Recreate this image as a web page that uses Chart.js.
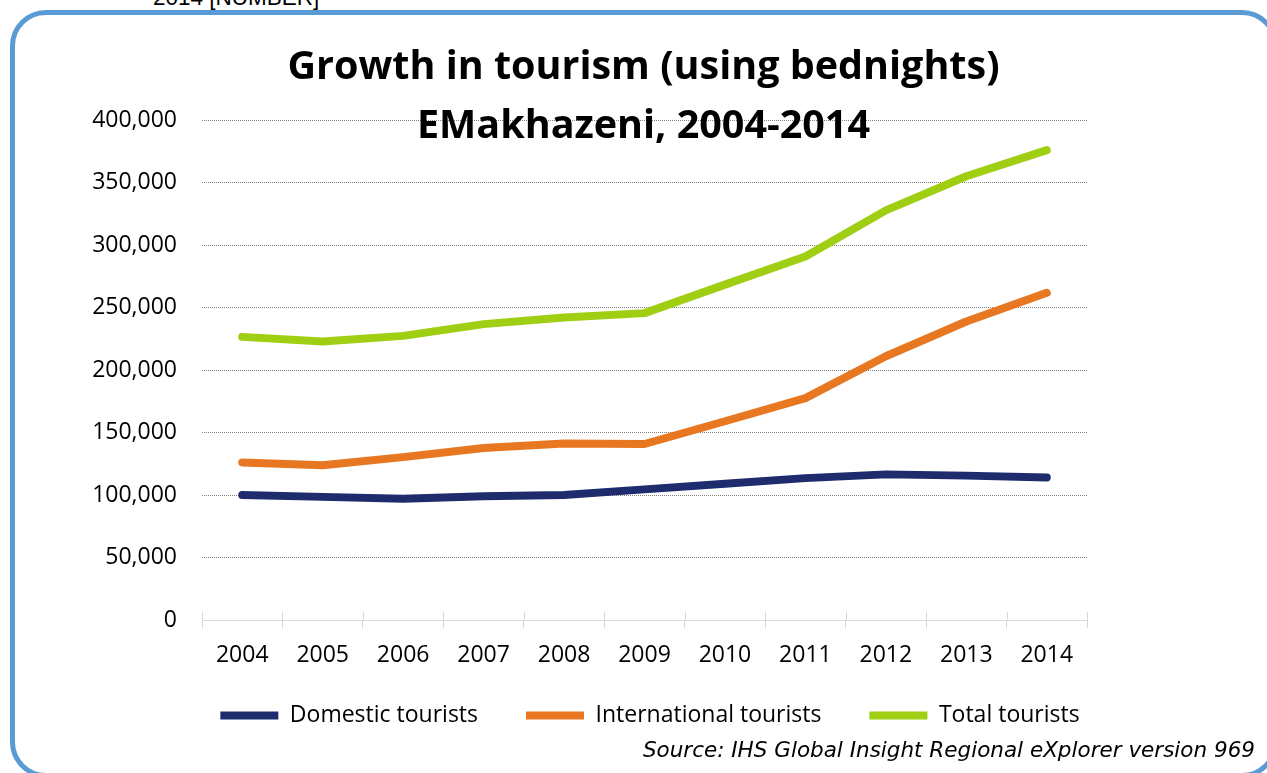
<!DOCTYPE html>
<html>
<head>
<meta charset="utf-8">
<title>Growth in tourism (using bednights) EMakhazeni, 2004-2014</title>
<script src="https://cdn.jsdelivr.net/npm/chart.js@4/dist/chart.umd.min.js"></script>
<style>
  html, body { margin: 0; padding: 0; background: #fff; overflow: hidden; }
  #wrap { position: relative; width: 1267px; height: 773px; overflow: hidden; }
  #frame {
    position: absolute; left: 10px; top: 10px; width: 1268px; height: 768px;
    border: 5px solid #5b9bd5; border-radius: 36px; box-sizing: border-box;
  }
  #caption {
    position: absolute; left: 153px; top: -15px;
    font: 22.5px "Liberation Sans", Arial, sans-serif; color: #000;
  }
  #title {
    position: absolute; left: 0; top: 35px; width: 1287px; text-align: center;
    font: bold 39.5px "Open Sans", sans-serif; line-height: 59px; color: #000;
    pointer-events: none; z-index: 2;
  }
  #source {
    position: absolute; right: 12px; top: 737px;
    font: italic 21.5px "DejaVu Sans", sans-serif; color: #000;
  }
  #chart { position: absolute; left: 0; top: 0; }
</style>
</head>
<body>
<div id="wrap">
  <div id="caption">2014 [NUMBER]</div>
  <div id="frame"></div>
  <canvas id="chart" width="1267" height="773"></canvas>
  <div id="title">Growth in tourism (using bednights)<br>EMakhazeni, 2004-2014</div>
  <div id="source">Source: IHS Global Insight Regional eXplorer version 969</div>
</div>
<script>
const years = ["2004", "2005", "2006", "2007", "2008", "2009", "2010", "2011", "2012", "2013", "2014"];
const domestic = [100000, 98500, 97000, 99000, 100000, 104500, 109000, 113500, 116500, 115500, 114000];
const international = [126000, 123800, 130300, 137600, 141200, 140800, 159000, 177500, 211000, 238800, 261800];
const total = [226500, 222800, 227300, 236700, 242000, 245500, 268300, 290800, 327700, 355000, 375900];
const seriesNames = ["Domestic tourists", "International tourists", "Total tourists"];
const seriesColors = ["#1e2c6d", "#e87722", "#9fce13"];

function makeSet(i, values) {
    return {
        label: seriesNames[i],
        data: values,
        borderColor: seriesColors[i],
        backgroundColor: seriesColors[i],
        borderWidth: 8,
        borderCapStyle: "round",
        borderJoinStyle: "round",
        pointRadius: 0,
        pointHoverRadius: 0,
        pointStyle: "line",
        tension: 0,
        fill: false
    };
}

// short tick marks crossing the category axis at each boundary
const axisTicks = {
    id: "axisTicks",
    afterDatasetsDraw(chart) {
        const x = chart.scales.x;
        const ctx = chart.ctx;
        const y0 = chart.chartArea.bottom;
        const step = (x.right - x.left) / years.length;
        ctx.save();
        ctx.strokeStyle = "#d9d9d9";
        ctx.lineWidth = 1;
        ctx.beginPath();
        for (let i = 0; i <= years.length; i++) {
            const px = Math.round(x.left + step * i) + 0.5;
            ctx.moveTo(px, y0 - 8);
            ctx.lineTo(px, y0);
        }
        ctx.stroke();
        ctx.restore();
    }
};

// the legend row sits a little right of the plot's centre and tucked up under the years
const legendShift = {
    id: "legendShift",
    afterLayout(chart) {
        const lg = chart.legend;
        const dx = 650 - (lg.left + lg.right) / 2;
        lg.left += dx;
        lg.right += dx;
        lg.top -= 12;
        lg.bottom -= 12;
    }
};

const config = {
    type: "line",
    data: {
        labels: years,
        datasets: [makeSet(0, domestic), makeSet(1, international), makeSet(2, total)]
    },
    plugins: [axisTicks, legendShift],
    options: {
        responsive: false,
        animation: false,
        layout: { padding: { left: 0, right: 180, top: 120, bottom: 24 } },
        plugins: {
            title: { display: false },
            tooltip: { enabled: false },
            legend: {
                position: "bottom",
                labels: {
                    usePointStyle: true,
                    pointStyleWidth: 58,
                    boxHeight: 7,
                    padding: 48,
                    color: "#000",
                    font: { family: "'Open Sans', sans-serif", size: 23 }
                }
            }
        },
        scales: {
            x: {
                offset: true,
                grid: {
                    offset: true,
                    drawOnChartArea: false,
                    color: "#d9d9d9",
                    tickLength: 8
                },
                border: { color: "#d9d9d9", width: 1 },
                ticks: {
                    color: "#000",
                    padding: 14,
                    maxRotation: 0,
                    font: { family: "'Open Sans', sans-serif", size: 23 }
                },
                afterFit: function(scale) { scale.height = 48; }
            },
            y: {
                min: 0,
                max: 400000,
                ticks: {
                    stepSize: 50000,
                    color: "#000",
                    padding: 25,
                    font: { family: "'Open Sans', sans-serif", size: 23 },
                    callback: function(value) { return value.toLocaleString("en-US"); }
                },
                grid: {
                    color: "#7f7f7f",
                    lineWidth: 1,
                    drawTicks: false
                },
                // dotted horizontal gridlines
                border: { display: false, dash: [1, 1] },
                afterFit: function(scale) { scale.width = 202; }
            }
        }
    }
};

new Chart(document.getElementById("chart"), config);
</script>
</body>
</html>
